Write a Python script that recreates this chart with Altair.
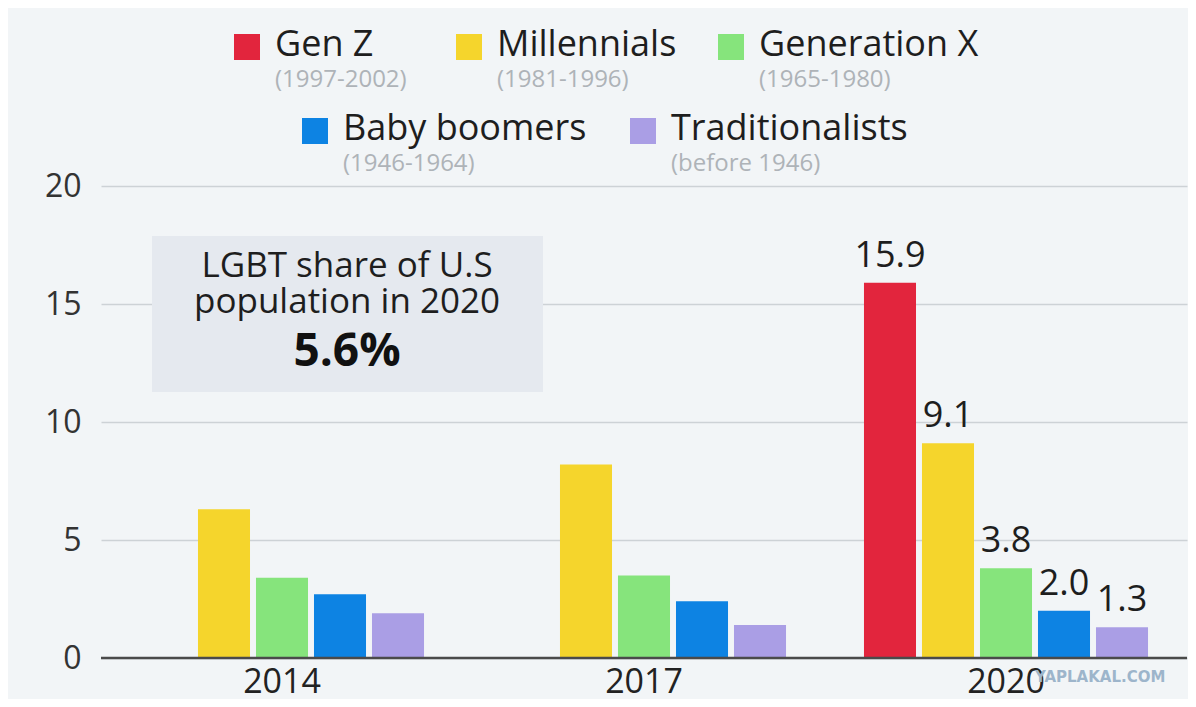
import altair as alt
import pandas as pd

# ---- data ----
generations = ["Gen Z", "Millennials", "Generation X", "Baby boomers", "Traditionalists"]
gen_years = ["(1997-2002)", "(1981-1996)", "(1965-1980)", "(1946-1964)", "(before 1946)"]
years = ["2014", "2017", "2020"]
gen_z = [None, None, 15.9]
millennials = [6.3, 8.2, 9.1]
gen_x = [3.4, 3.5, 3.8]
boomers = [2.7, 2.4, 2.0]
traditionalists = [1.9, 1.4, 1.3]
y_ticks = [0, 5, 10, 15, 20]
box_lines = ["LGBT share of U.S", "population in 2020"]
box_value = "5.6%"
watermark = "YAPLAKAL.COM"

# ---- style ----
colors = ["#E2253D", "#F5D52C", "#86E47C", "#0D83E3", "#AA9EE5"]
bg = "#F2F5F7"
font = "Open Sans"

series = [gen_z, millennials, gen_x, boomers, traditionalists]
rows = []
for g, vals in zip(generations, series):
    for y, v in zip(years, vals):
        if v is not None:
            rows.append({"year": y, "gen": g, "value": v})
df = pd.DataFrame(rows)

# legend layout (pixel positions relative to plot area)
leg_sq_x = [146, 368, 630, 214, 542]
leg_row_y = [-139, -139, -139, -55, -55]
leg_text_dx = 28
leg_sub_dy = 33
leg = pd.DataFrame({
    "gen": generations,
    "years": gen_years,
    "sx": leg_sq_x,
    "tx": [v + leg_text_dx for v in leg_sq_x],
    "sy": leg_row_y,
    "ty": [v - 2 for v in leg_row_y],
    "suby": [v + leg_sub_dy for v in leg_row_y],
})

W, H = 1086, 472

color_scale = alt.Scale(domain=generations, range=colors)
x_enc = alt.X("year:N", sort=years, title=None,
              scale=alt.Scale(paddingInner=0, paddingOuter=0),
              axis=alt.Axis(labelFontSize=34, labelColor="#222", labelFont=font,
                            ticks=False, domain=False, labelPadding=7, labelAngle=0))
xoff_enc = alt.XOffset("gen:N", sort=generations,
                       scale=alt.Scale(domain=generations, paddingInner=0.103, paddingOuter=0.672))
y_enc = alt.Y("value:Q", title=None,
              scale=alt.Scale(domain=[0, 20]),
              axis=alt.Axis(values=y_ticks, labelFontSize=32, labelColor="#333", labelFont=font,
                            ticks=False, domain=False, labelPadding=20,
                            grid=True, gridColor="#CDD2D6", gridWidth=1.5))

base = alt.Chart(df)

bars = base.mark_bar().encode(
    x=x_enc, xOffset=xoff_enc, y=y_enc,
    color=alt.Color("gen:N", scale=color_scale, legend=None),
)

labels = base.transform_filter(alt.datum.year == "2020").mark_text(
    dy=-27, fontSize=36, font=font, color="#1E1E1E", baseline="middle"
).encode(
    x=alt.X("year:N", sort=years), xOffset=alt.XOffset("gen:N", sort=generations),
    y="value:Q", text=alt.Text("value:Q", format=".1f"),
)

baseline = alt.Chart(pd.DataFrame({"v": [0]})).mark_rule(color="#4A4A4A", strokeWidth=2.5).encode(
    y=alt.Y("v:Q")
)

box = alt.Chart(pd.DataFrame({"a": [0]})).mark_rect(color="#E5E9EF").encode(
    x=alt.value(51), x2=alt.value(442), y=alt.value(50), y2=alt.value(206)
)
box_txt = alt.Chart(pd.DataFrame({"t": box_lines, "py": [80, 116]})).mark_text(
    fontSize=35, font=font, color="#1E1E1E", baseline="middle", align="center"
).encode(x=alt.value(246), y=alt.Y("py:Q", scale=None), text="t:N")
box_val = alt.Chart(pd.DataFrame({"t": [box_value]})).mark_text(
    fontSize=46, font=font, fontWeight="bold", color="#111", baseline="middle", align="center"
).encode(x=alt.value(246), y=alt.value(166), text="t:N")

legend_sq = alt.Chart(leg).mark_square(size=676, opacity=1).encode(
    x=alt.X("sx:Q", scale=None), y=alt.Y("sy:Q", scale=None),
    color=alt.Color("gen:N", scale=color_scale, legend=None),
)
legend_name = alt.Chart(leg).mark_text(
    fontSize=36, font=font, color="#1E1E1E", align="left", baseline="middle"
).encode(x=alt.X("tx:Q", scale=None), y=alt.Y("ty:Q", scale=None), text="gen:N")
legend_sub = alt.Chart(leg).mark_text(
    fontSize=24, font=font, color="#AEB3B8", align="left", baseline="middle"
).encode(x=alt.X("tx:Q", scale=None), y=alt.Y("suby:Q", scale=None), text="years:N")

wm = alt.Chart(pd.DataFrame({"t": [watermark]})).mark_text(
    fontSize=15, font="DejaVu Sans", fontWeight="bold", color="#9DB5CB", align="left", baseline="middle"
).encode(x=alt.value(934), y=alt.value(491), text="t:N")

chart = alt.layer(
    box, box_txt, box_val, bars, baseline, labels, legend_sq, legend_name, legend_sub, wm
).resolve_scale(y="shared").properties(
    width=W, height=H,
    background=bg,
    autosize=alt.AutoSizeParams(type="none"),
    padding={"left": 93, "top": 178, "right": 1, "bottom": 41},
).configure_view(stroke=None)

chart.save("out.html", embed_options={"renderer": "svg", "actions": False})
